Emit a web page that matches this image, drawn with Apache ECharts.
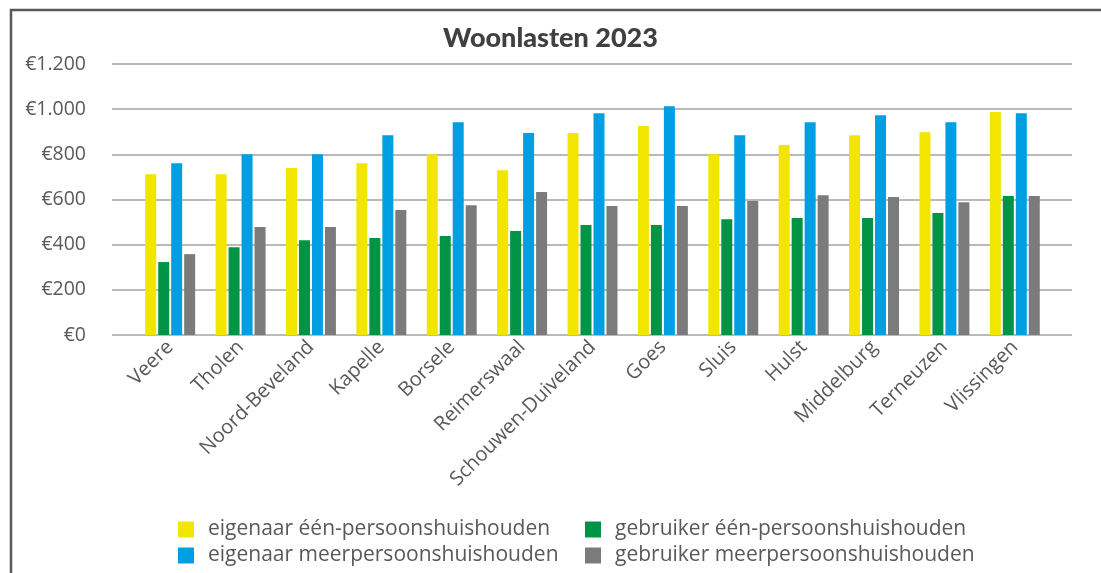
<!DOCTYPE html>
<html>
<head>
    <meta charset="utf-8">
    <title>Woonlasten 2023</title>
    <script src="https://cdn.jsdelivr.net/npm/echarts@6/dist/echarts.min.js"></script>
    <style>
        html, body { margin: 0; padding: 0; background: #fff; }
    </style>
</head>
<body>
    <div id="main" style="width: 1101px;height:573px;"></div>
    <script type="text/javascript">
        // gemeenten
        var gemeenten = ['Veere', 'Tholen', 'Noord-Beveland', 'Kapelle', 'Borsele', 'Reimerswaal',
            'Schouwen-Duiveland', 'Goes', 'Sluis', 'Hulst', 'Middelburg', 'Terneuzen', 'Vlissingen'];

        // woonlasten per maand (euro)
        var eigenaarEen = [712, 712, 739, 761, 800, 730, 894, 925, 800, 841, 885, 898, 987];
        var gebruikerEen = [323, 389, 420, 429, 438, 460, 487, 487, 513, 518, 518, 540, 615];
        var eigenaarMeer = [761, 800, 800, 885, 942, 894, 982, 1013, 885, 942, 973, 942, 982];
        var gebruikerMeer = [358, 478, 478, 553, 575, 633, 571, 571, 593, 619, 611, 588, 615];

        var seriesNamen = ['eigenaar één-persoonshuishouden', 'gebruiker één-persoonshuishouden',
            'eigenaar meerpersoonshuishouden', 'gebruiker meerpersoonshuishouden'];
        var kleuren = ['#F2E500', '#009444', '#009FE3', '#7B7B7B'];

        var font = 'Open Sans';
        var tekstKleur = '#595959';

        var myChart = echarts.init(document.getElementById('main'));

        function bar(naam, data, kleur) {
            return {
                name: naam,
                type: 'bar',
                xAxisIndex: 1,
                yAxisIndex: 1,
                data: data,
                barWidth: 11,
                barGap: '18%',
                itemStyle: { color: kleur },
                animation: false
            };
        }

        // één legenda per item, zo staan ze in twee kolommen
        var legendPos = [[178, 519], [585, 519], [178, 545], [585, 545]];
        var legends = seriesNamen.map(function (naam, i) {
            return {
                left: legendPos[i][0],
                top: legendPos[i][1],
                padding: 0,
                itemWidth: 16,
                itemHeight: 16,
                selectedMode: false,
                icon: 'rect',
                data: [naam],
                textStyle: { fontFamily: font, fontSize: 21, color: tekstKleur, padding: [0, 0, 0, 9] }
            };
        });

        var option = {
            backgroundColor: '#fff',
            title: {
                text: 'Woonlasten 2023',
                left: 'center',
                top: 20,
                textStyle: {
                    fontFamily: 'Lato',
                    fontWeight: 900,
                    fontSize: 27,
                    color: '#404040'
                }
            },
            graphic: [{
                type: 'rect',
                shape: { x: 11, y: 10, width: 2000, height: 2000 },
                style: { fill: 'none', stroke: '#595959', lineWidth: 2.5 },
                silent: true
            }],
            legend: legends,
            // grid 0: rasterlijnen over de volle breedte, grid 1: de staven
            grid: [
                { left: 112, right: 29, top: 64, bottom: 238 },
                { left: 135, right: 51, top: 64, bottom: 238 }
            ],
            xAxis: [{
                gridIndex: 0,
                type: 'value',
                min: 0,
                max: 1,
                axisLine: { show: false },
                axisTick: { show: false },
                axisLabel: { show: false },
                splitLine: { show: false }
            }, {
                gridIndex: 1,
                type: 'category',
                data: gemeenten,
                axisLine: { show: false },
                axisTick: { show: false },
                axisLabel: {
                    rotate: 45,
                    interval: 0,
                    margin: 9,
                    fontFamily: font,
                    fontSize: 20,
                    color: tekstKleur
                }
            }],
            yAxis: [{
                gridIndex: 0,
                type: 'value',
                min: 0,
                max: 1200,
                interval: 200,
                axisLine: { show: false },
                axisTick: { show: false },
                axisLabel: {
                    margin: 26,
                    fontFamily: font,
                    fontSize: 19.5,
                    color: tekstKleur,
                    formatter: function (v) {
                        return '€' + String(v).replace(/\B(?=(\d{3})+(?!\d))/g, '.');
                    }
                },
                splitLine: { lineStyle: { color: '#A3A3A3', width: 1.5 } }
            }, {
                gridIndex: 1,
                type: 'value',
                min: 0,
                max: 1200,
                interval: 200,
                show: false,
                splitLine: { show: false }
            }],
            series: [
                bar(seriesNamen[0], eigenaarEen, kleuren[0]),
                bar(seriesNamen[1], gebruikerEen, kleuren[1]),
                bar(seriesNamen[2], eigenaarMeer, kleuren[2]),
                bar(seriesNamen[3], gebruikerMeer, kleuren[3])
            ]
        };

        myChart.setOption(option);
    </script>
</body>
</html>
